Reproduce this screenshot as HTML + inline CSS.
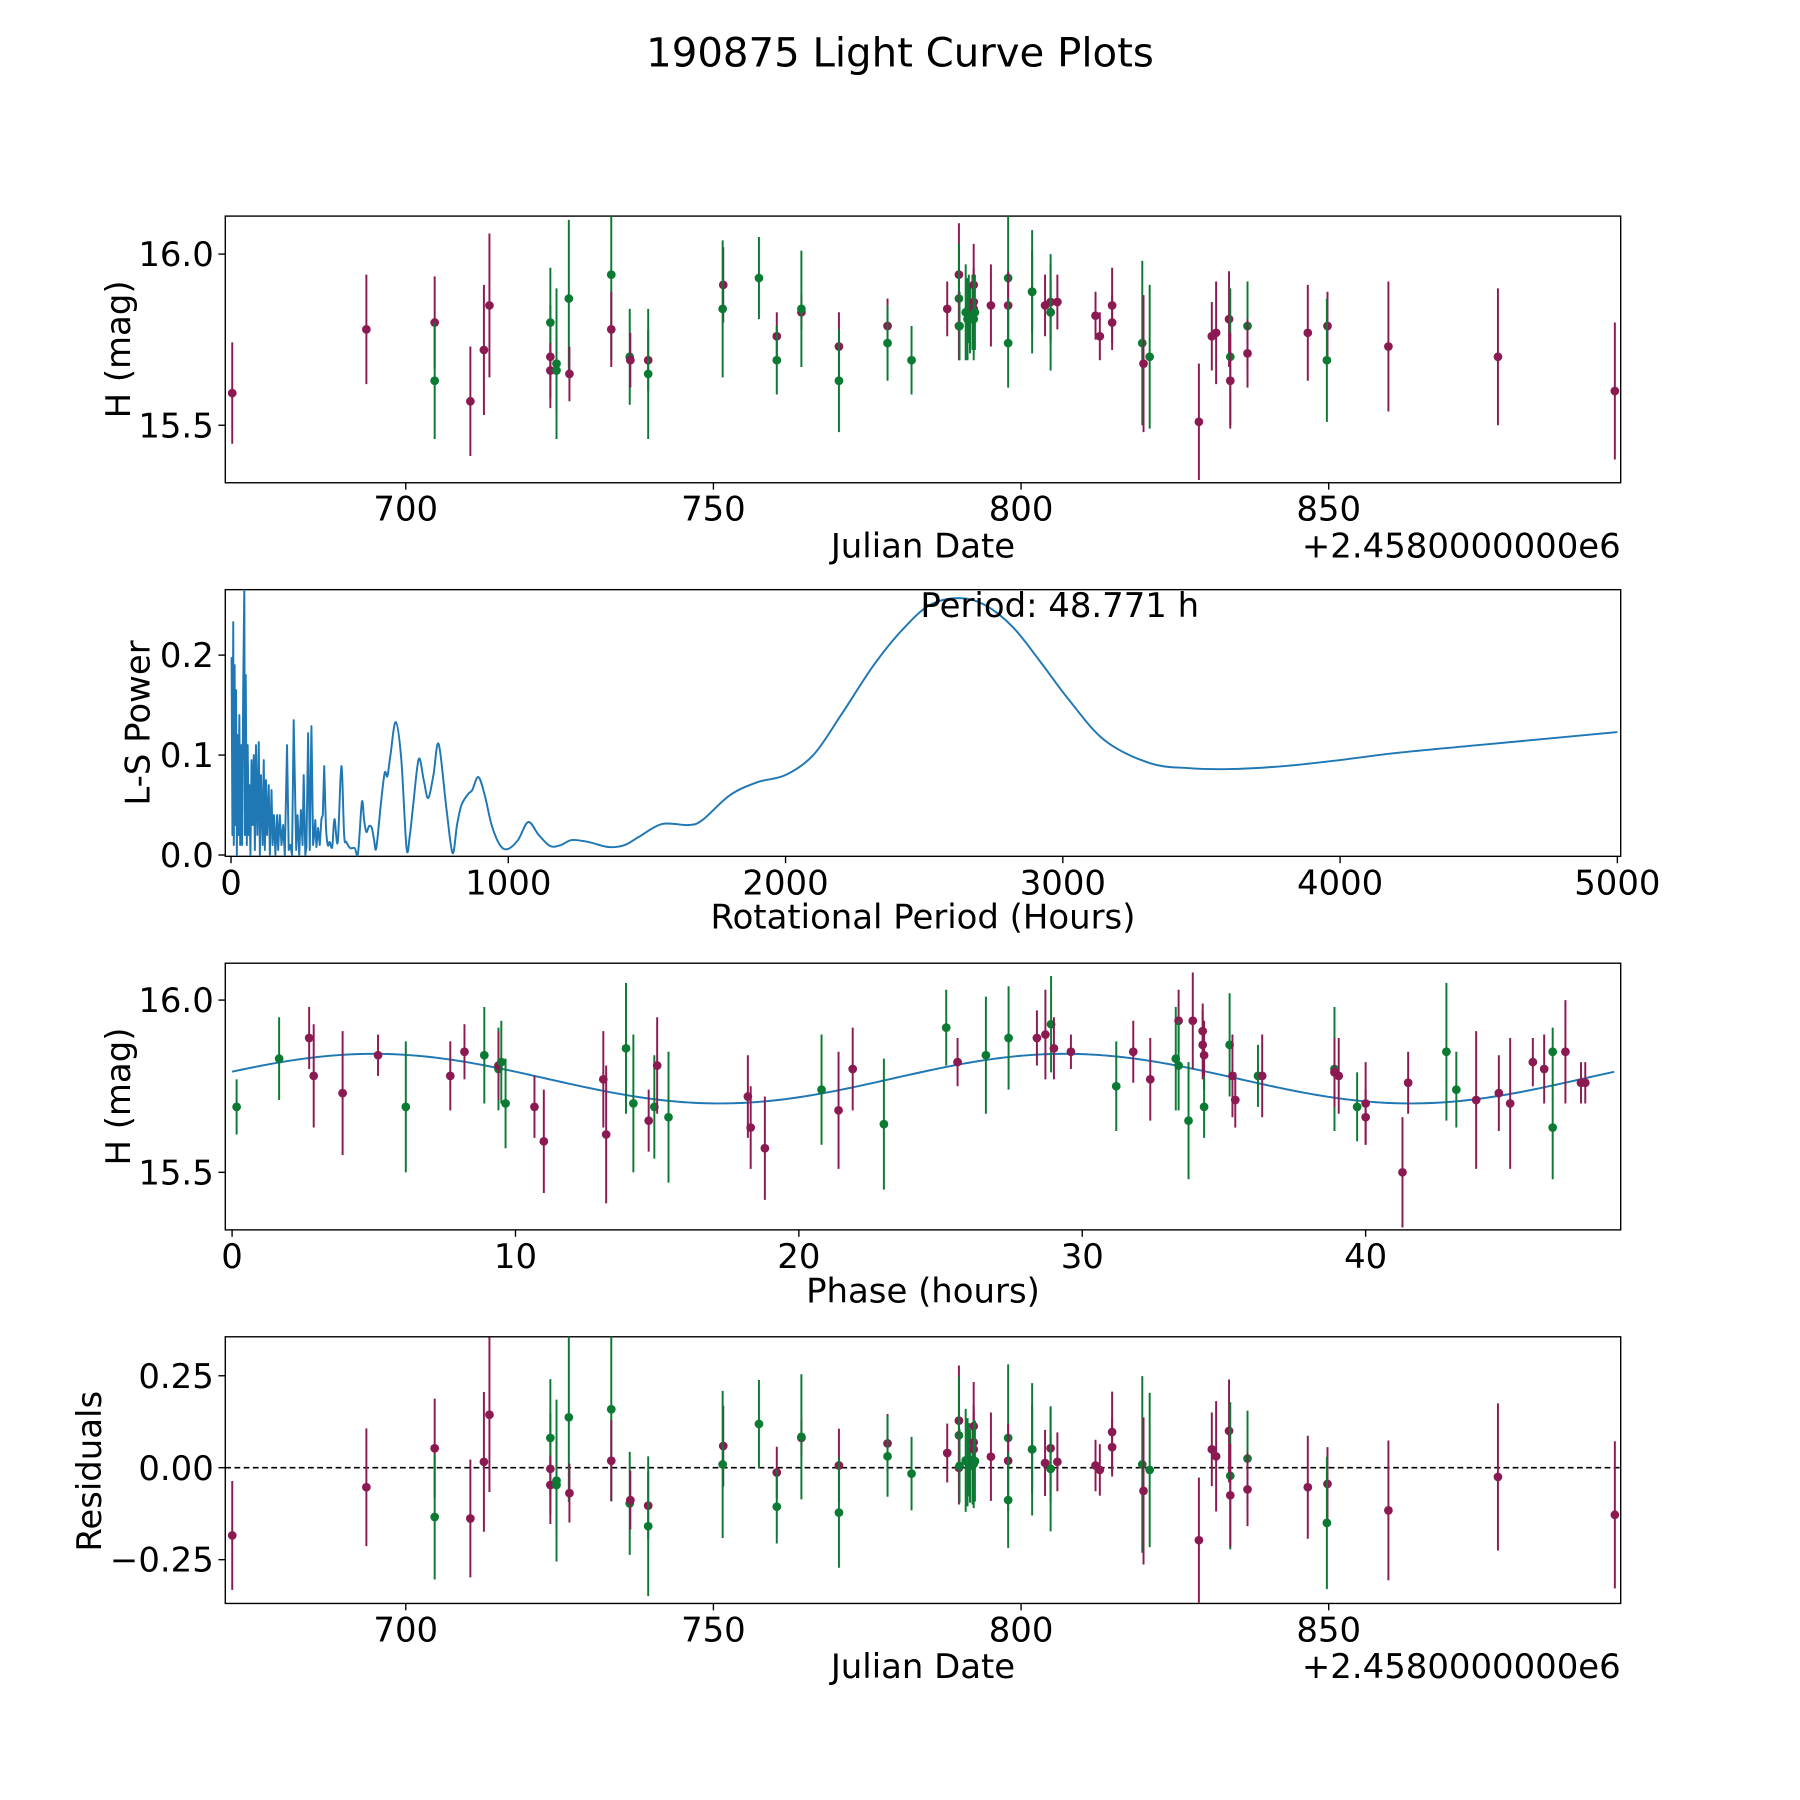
<!DOCTYPE html>
<html><head><meta charset="utf-8"><style>
html,body{margin:0;padding:0;background:#fff;}
svg{display:block;font-family:"DejaVu Sans","Liberation Sans",sans-serif;}
</style></head>
<body>
<svg id="fig" width="1800" height="1800" viewBox="0 0 1566 1566" xmlns="http://www.w3.org/2000/svg">
<rect width="1566" height="1566" fill="#fff"/>
<text x="783" y="58" font-size="35" text-anchor="middle">190875 Light Curve Plots</text>
</svg>
<script>
// ---- Panel 1 / 4 data (Julian date offset from 2458000) ----
const dates = [671.8,693.6,704.7,704.7,710.5,712.7,713.6,723.5,723.5,723.5,724.5,724.5,726.5,726.6,733.4,733.4,736.4,736.5,739.4,739.4,751.6,751.5,757.4,760.3,760.3,764.3,764.3,770.4,770.4,778.3,778.3,782.2,788.0,789.9,789.9,789.9,790.0,791.0,791.3,791.5,791.7,792.1,792.3,792.3,792.3,792.3,792.5,795.1,797.9,797.9,797.9,801.8,801.8,803.9,804.8,804.8,804.8,805.9,812.1,812.8,814.8,814.8,819.7,819.9,820.9,828.9,831.0,831.7,833.8,834.0,834.0,836.8,836.8,846.6,849.8,849.7,859.7,877.5,896.5];
const mags = [15.594,15.78,15.80,15.63,15.57,15.72,15.85,15.70,15.80,15.66,15.68,15.66,15.87,15.65,15.94,15.78,15.70,15.69,15.69,15.65,15.91,15.84,15.93,15.76,15.69,15.83,15.84,15.73,15.63,15.79,15.74,15.69,15.84,15.94,15.87,15.79,15.79,15.83,15.81,15.84,15.81,15.83,15.91,15.86,15.84,15.81,15.83,15.85,15.93,15.85,15.74,15.89,15.89,15.85,15.86,15.83,15.83,15.86,15.82,15.76,15.85,15.80,15.74,15.68,15.70,15.51,15.76,15.77,15.81,15.70,15.63,15.79,15.71,15.77,15.79,15.69,15.73,15.70,15.60];
const errs = [0.148,0.16,0.135,0.17,0.16,0.19,0.21,0.15,0.16,0.08,0.22,0.12,0.23,0.08,0.25,0.11,0.14,0.08,0.09,0.19,0.11,0.2,0.12,0.07,0.10,0.05,0.17,0.1,0.15,0.08,0.11,0.1,0.08,0.15,0.16,0.1,0.1,0.14,0.12,0.1,0.1,0.11,0.12,0.1,0.1,0.12,0.11,0.12,0.2,0.1,0.13,0.12,0.18,0.09,0.11,0.09,0.17,0.08,0.07,0.07,0.11,0.08,0.24,0.2,0.21,0.17,0.1,0.15,0.14,0.2,0.14,0.13,0.1,0.14,0.1,0.18,0.19,0.2,0.2];
const resids = [-0.184,-0.053,0.053,-0.134,-0.138,0.016,0.144,-0.003,0.081,-0.047,-0.035,-0.047,0.137,-0.069,0.159,0.019,-0.097,-0.088,-0.103,-0.159,0.059,0.009,0.119,-0.013,-0.106,0.081,0.084,0.006,-0.122,0.066,0.031,-0.016,0.04,0.128,0.088,0.0,0.005,0.02,0.015,0.022,0.005,0.01,0.113,0.069,0.05,0.01,0.018,0.03,0.081,0.019,-0.088,0.05,0.05,0.013,0.053,-0.003,-0.003,0.016,0.006,-0.006,0.097,0.056,0.009,-0.063,-0.006,-0.197,0.05,0.031,0.10,-0.022,-0.075,0.025,-0.059,-0.053,-0.044,-0.15,-0.116,-0.025,-0.128];
const colors = "PPPGPPPPGPGGGPGPGPPGPGGPGPGPGPGGPPGPGGGGGGPPPGGPGPGPGPPPGPPPPPGPGPPPPGPGPPPGPPP".split("");
// ---- Phase panel data ----
const phases = [0.16,1.66,2.72,2.88,3.9,5.15,6.13,7.7,8.2,8.9,9.4,9.4,9.5,9.65,10.67,11.0,13.1,13.2,13.9,14.16,14.7,14.9,15.0,15.4,18.2,18.3,18.8,20.8,21.4,21.9,23.0,25.2,25.6,26.6,27.4,28.4,28.7,28.9,29.0,29.6,31.2,31.8,32.4,33.3,33.4,33.4,33.75,33.9,34.25,34.25,34.3,34.3,35.2,35.3,35.4,36.2,36.35,38.9,38.9,39.05,39.7,40.0,40.0,41.3,41.5,42.85,43.2,43.9,44.7,45.1,45.9,46.3,46.6,46.6,47.05,47.6,47.75];
const phaseMags = [15.69,15.83,15.89,15.78,15.73,15.84,15.69,15.78,15.85,15.84,15.80,15.81,15.82,15.70,15.69,15.59,15.77,15.61,15.86,15.70,15.65,15.69,15.81,15.66,15.72,15.63,15.57,15.74,15.68,15.80,15.64,15.92,15.82,15.84,15.89,15.89,15.90,15.93,15.86,15.85,15.75,15.85,15.77,15.83,15.94,15.81,15.65,15.94,15.91,15.87,15.84,15.69,15.87,15.78,15.71,15.78,15.78,15.80,15.79,15.78,15.69,15.66,15.70,15.50,15.76,15.85,15.74,15.71,15.73,15.70,15.82,15.80,15.85,15.63,15.85,15.76,15.76];
const phaseErrs = [0.08,0.12,0.09,0.15,0.18,0.06,0.19,0.1,0.08,0.14,0.12,0.1,0.12,0.13,0.09,0.15,0.14,0.2,0.19,0.2,0.09,0.15,0.14,0.19,0.12,0.12,0.15,0.16,0.17,0.12,0.19,0.11,0.07,0.17,0.15,0.08,0.13,0.14,0.09,0.05,0.13,0.09,0.12,0.15,0.09,0.13,0.17,0.14,0.08,0.1,0.1,0.09,0.15,0.12,0.08,0.09,0.12,0.18,0.1,0.11,0.1,0.08,0.12,0.16,0.09,0.2,0.11,0.2,0.11,0.19,0.07,0.1,0.07,0.15,0.15,0.06,0.06];
const phaseColors = "GGPPPPGPPGGPGGPPPPGGPGPGPPPGPPGGPGGPPGPPGPPGPGGPPPPGGPPGPGPPGPPPPGGPPPPPGGPPP".split("");
// ---- Model fit params ----
const modelMean = [15.772];
const modelAmp = [0.072];
const modelPeakPhase = [5.0];
const modelPeriod = [24.39];
// ---- Periodogram ----
const lsPeriods = [2,5,8,10,13,15,18,21,24,27,30,33,36,40,44,48,50,53,57,60,64,66,70,74,78,82,86,90,95,100,104,108,114,118,122,126,130,136,140,146,150,155,160,166,170,176,182,188,194,202,208,214,220,226,235,240,246,252,258,262,268,272,278,284,290,296,300,304,308,314,320,326,331,336,342,349,356,365,373,385,398,408,416,430,446,458,472,480,488,498,508,516,524,540,554,564,575,594,614,633,645,657,677,695,711,730,749,777,799,815,831,855,870,892,915,940,970,998,1035,1072,1110,1151,1190,1229,1290,1361,1420,1470,1554,1650,1700,1800,1900,2000,2100,2200,2318,2420,2520,2628,2720,2820,2920,3020,3150,3313,3450,3600,3800,4000,4200,4500,5000];
const lsPowers = [0.198,0.02,0.233,0.01,0.19,0.03,0.165,0.0,0.12,0.02,0.14,0.01,0.11,0.01,0.17,0.27,0.02,0.18,0.01,0.11,0.02,0.07,0.0,0.095,0.03,0.1,0.005,0.11,0.02,0.113,0.0,0.08,0.01,0.095,0.005,0.075,0.02,0.07,0.0,0.065,0.01,0.04,0.0,0.04,0.005,0.04,0.01,0.03,0.0,0.11,0.005,0.01,0.0,0.135,0.005,0.04,0.0,0.045,0.01,0.08,0.0,0.008,0.122,0.005,0.129,0.01,0.02,0.035,0.008,0.027,0.01,0.036,0.04,0.089,0.03,0.01,0.013,0.008,0.036,0.013,0.089,0.02,0.013,0.007,0.007,0.002,0.053,0.035,0.023,0.029,0.027,0.015,0.007,0.05,0.082,0.079,0.1,0.133,0.096,0.007,0.02,0.05,0.096,0.075,0.057,0.08,0.111,0.046,0.002,0.03,0.05,0.061,0.065,0.078,0.06,0.03,0.01,0.006,0.015,0.033,0.02,0.009,0.01,0.015,0.013,0.008,0.01,0.018,0.031,0.03,0.035,0.06,0.073,0.08,0.1,0.14,0.19,0.225,0.25,0.257,0.25,0.228,0.193,0.156,0.115,0.092,0.087,0.086,0.089,0.095,0.102,0.11,0.123];
const lsXTicks = [0,1000,2000,3000,4000,5000];
const lsYTicks = [0.0,0.1,0.2];
const jdXTicks = [700,750,800,850];
const magYTicks = [16.0,15.5];
const phaseXTicks = [0,10,20,30,40];
const residYTicks = [0.25,0.0,-0.25];
const periodLabel = ["Period: 48.771 h"];

const NS = "http://www.w3.org/2000/svg";
const svg = document.getElementById("fig");
const COL = {P:"#8c1a52", G:"#0b7a32"};
const FS = 29.5;
function mk(tag, attrs, parent){
  const e = document.createElementNS(NS, tag);
  for (const k in attrs) e.setAttribute(k, attrs[k]);
  (parent||svg).appendChild(e);
  return e;
}
function lin(d0,d1,p0,p1){ return v => p0 + (v-d0)*(p1-p0)/(d1-d0); }

const L = 196, R = 1410;
const panels = [
  {top:188, bot:420, name:"light-curve-panel"},
  {top:513, bot:745, name:"periodogram-panel"},
  {top:838, bot:1070, name:"phase-panel"},
  {top:1163, bot:1395, name:"residuals-panel"}
];
const jdX = lin(670.67, 897.45, L, R);
const magY1 = lin(15.332, 16.111, 420, 188);
const lsX = lin(-20.7, 5012, L, R);
const lsY = lin(-0.0013, 0.2655, 745, 513);
const phX = lin(-0.24, 49.0, L, R);
const magY3 = lin(15.333, 16.107, 1070, 838);
const resY = lin(-0.369, 0.356, 1395, 1163);

const groups = panels.map(p => {
  const g = mk("g", {});
  
  
  const cp = mk("clipPath", {id:"clip-"+p.name}, g);
  mk("rect", {x:L, y:p.top, width:R-L, height:p.bot-p.top}, cp);
  return g;
});

function frame(i){
  const p = panels[i];
  const r = mk("rect", {x:L, y:p.top, width:R-L, height:p.bot-p.top, fill:"none", stroke:"#000", "stroke-width":1.2}, groups[i]);
  
  
}
function xTicks(i, ticks, fx, fmt){
  const p = panels[i];
  ticks.forEach(t => {
    const x = fx(t);
    mk("line", {x1:x, x2:x, y1:p.bot, y2:p.bot+6, stroke:"#000", "stroke-width":1.2}, groups[i]);
    const tx = mk("text", {x:x, y:p.bot+33, "font-size":FS, "text-anchor":"middle"}, groups[i]);
    tx.textContent = fmt(t);
    
    
  });
}
function yTicks(i, ticks, fy, fmt){
  ticks.forEach(t => {
    const y = fy(t);
    mk("line", {x1:L-6, x2:L, y1:y, y2:y, stroke:"#000", "stroke-width":1.2}, groups[i]);
    const tx = mk("text", {x:L-10, y:y+10.5, "font-size":FS, "text-anchor":"end"}, groups[i]);
    tx.textContent = fmt(t);
    
    
  });
}
function label(i, txt, x, y, rot, name, anchor){
  const t = mk("text", {x:x, y:y, "font-size":FS, "text-anchor":anchor||"middle"}, groups[i]);
  if (rot) t.setAttribute("transform", `rotate(-90 ${x} ${y})`);
  t.textContent = txt;
  
  
}
function errPoint(i, x, y, yLo, yHi, c){
  const g = mk("g", {"clip-path":`url(#clip-${panels[i].name})`}, groups[i]);
  
  
  mk("line", {x1:x, x2:x, y1:yLo, y2:yHi, stroke:c, "stroke-width":1.7}, g);
  mk("circle", {cx:x, cy:y, r:3.8, fill:c}, g);
}
const f2 = v => v.toFixed(2).replace("-","\u2212");
const f1 = v => v.toFixed(1);
const f0 = v => String(v);

// Panel 1
frame(0);
xTicks(0, jdXTicks, jdX, f0);
yTicks(0, magYTicks, magY1, f1);
label(0, "Julian Date", 803, 485, false, "x-axis-title");
label(0, "+2.4580000000e6", 1410, 485, false, "x-axis-offset", "end");
label(0, "H (mag)", 113, 304, true, "y-axis-title");
dates.forEach((d,k) => errPoint(0, jdX(d), magY1(mags[k]), magY1(mags[k]-errs[k]), magY1(mags[k]+errs[k]), COL[colors[k]]||COL.P));

// Panel 2
frame(1);
xTicks(1, lsXTicks, lsX, f0);
yTicks(1, lsYTicks, lsY, f1);
label(1, "Rotational Period (Hours)", 803, 808, false, "x-axis-title");
label(1, "L-S Power", 130, 629, true, "y-axis-title");
{
  const P = lsPeriods.map((p,k) => [lsX(p), lsY(lsPowers[k])]);
  let d = `M${P[0][0].toFixed(2)},${P[0][1].toFixed(2)}`;
  for (let k = 1; k < P.length; k++){
    if (lsPeriods[k-1] < 340){
      d += ` L${P[k][0].toFixed(2)},${P[k][1].toFixed(2)}`;
    } else {
      const p0 = P[k-2]||P[k-1], p1 = P[k-1], p2 = P[k], p3 = P[k+1]||P[k];
      const c1 = [p1[0]+(p2[0]-p0[0])/6, p1[1]+(p2[1]-p0[1])/6];
      const c2 = [p2[0]-(p3[0]-p1[0])/6, p2[1]-(p3[1]-p1[1])/6];
      d += ` C${c1[0].toFixed(2)},${c1[1].toFixed(2)} ${c2[0].toFixed(2)},${c2[1].toFixed(2)} ${p2[0].toFixed(2)},${p2[1].toFixed(2)}`;
    }
  }
  const pl = mk("path", {d:d, fill:"none", stroke:"#1f77b4", "stroke-width":1.7, "stroke-linejoin":"round", "clip-path":"url(#clip-periodogram-panel)"}, groups[1]);
  
  
}
label(1, periodLabel[0], 922, 537, false, "period-annotation");

// Panel 3
frame(2);
xTicks(2, phaseXTicks, phX, f0);
yTicks(2, magYTicks, magY3, f1);
label(2, "Phase (hours)", 803, 1133, false, "x-axis-title");
label(2, "H (mag)", 113, 954, true, "y-axis-title");
{
  const pts = [];
  for (let s = 0; s <= 400; s++){
    const p = 0 + s*48.771/400;
    const m = modelMean[0] + modelAmp[0]*Math.cos(2*Math.PI*(p-modelPeakPhase[0])/modelPeriod[0]);
    pts.push(`${phX(p).toFixed(2)},${magY3(m).toFixed(2)}`);
  }
  const pl = mk("polyline", {points:pts.join(" "), fill:"none", stroke:"#1f77b4", "stroke-width":1.7}, groups[2]);
  
  
}
phases.forEach((p,k) => errPoint(2, phX(p), magY3(phaseMags[k]), magY3(phaseMags[k]-phaseErrs[k]), magY3(phaseMags[k]+phaseErrs[k]), COL[phaseColors[k]]||COL.P));

// Panel 4
frame(3);
xTicks(3, jdXTicks, jdX, f0);
yTicks(3, residYTicks, resY, f2);
label(3, "Julian Date", 803, 1460, false, "x-axis-title");
label(3, "+2.4580000000e6", 1410, 1460, false, "x-axis-offset", "end");
label(3, "Residuals", 88, 1280, true, "y-axis-title");
{
  const zl = mk("line", {x1:L, x2:R, y1:resY(0), y2:resY(0), stroke:"#000", "stroke-width":1.4, "stroke-dasharray":"5,3"}, groups[3]);
  
  
}
dates.forEach((d,k) => errPoint(3, jdX(d), resY(resids[k]), resY(resids[k]-errs[k]), resY(resids[k]+errs[k]), COL[colors[k]]||COL.P));
</script>
</body></html>
